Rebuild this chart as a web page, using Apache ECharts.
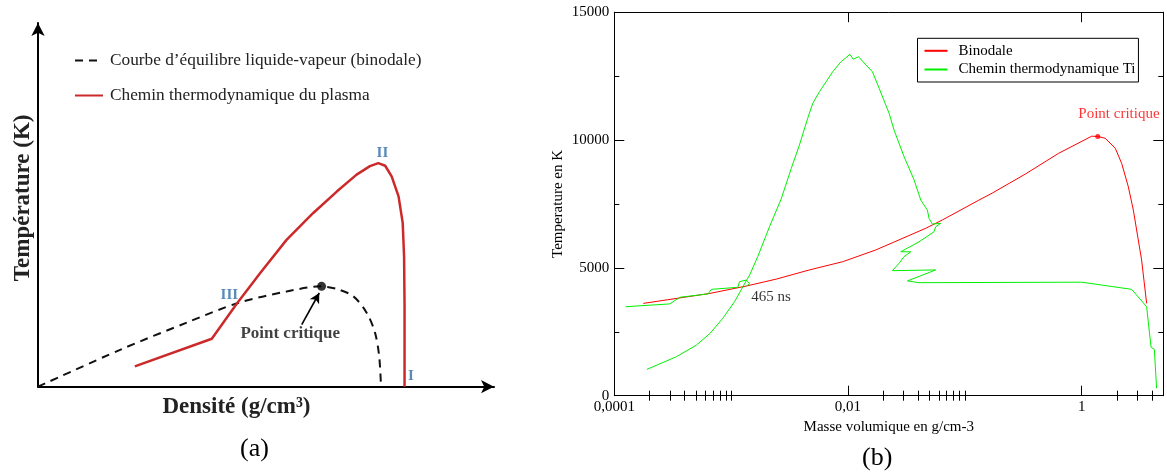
<!DOCTYPE html>
<html><head><meta charset="utf-8">
<script src="https://cdn.jsdelivr.net/npm/echarts@6/dist/echarts.min.js"></script>
<style>html,body{margin:0;padding:0;background:#fff}#c{width:1167px;height:472px}</style>
</head><body><div id="c"></div>
<script>
// ---------- Panel (a): schematic, arbitrary units ----------
const binodaleA = [[0,0],[17.8,10.0],[32.3,17.4],[43.4,22.7],[53.9,25.8],[61.2,27.2],[64.8,26.5],[68.4,24.5],[71.3,20.0],[73.1,14.6],[74.0,8.2],[74.4,0]];
const pathA = [[21.0,5.5],[37.7,13.0],[43.1,22.5],[48.2,30.8],[53.9,39.8],[59.7,47.1],[64.8,52.9],[69.1,57.5],[72.0,59.8],[73.8,60.6],[75.3,59.9],[76.7,57.0],[78.2,51.6],[79.1,44.4],[79.4,35.3],[79.5,21.8],[79.5,0]];
const criticalA = [61.5, 27.2];
const arrowA = [[57.2, 16.8], [61.0, 25.4]];
const stageLabelsA = [['I', 80.9, 3.0], ['II', 74.7, 63.3], ['III', 41.5, 24.9]];
const critLabelA = ['Point critique', 54.7, 14.5];
const legendA = ['Courbe d\u2019\u00e9quilibre liquide-vapeur (binodale)', 'Chemin thermodynamique du plasma'];

// ---------- Panel (b): density (g/cm3, log) vs temperature (K) ----------
const binodaleB = [[0.000177,3610],[0.000657,4000],[0.00135,4290],[0.00243,4560],[0.00468,4920],[0.0090,5240],[0.0173,5700],[0.0464,6550],[0.0641,6870],[0.132,7650],[0.171,7920],[0.33,8670],[0.635,9480],[1.22,10150],[1.374,10140],[1.59,10070],[1.94,9680],[2.20,9090],[2.51,8170],[2.77,7260],[3.26,5310],[3.60,3610]];
const pathB = [[4.38,290],[4.19,1815],[3.93,1890],[3.60,3480],[2.68,4160],[1.0,4440],[0.0406,4420],[0.0323,4490],[0.0564,4920],[0.0240,4890],[0.0274,5180],[0.0302,5440],[0.0345,5630],[0.0283,5630],[0.0406,6020],[0.0545,6410],[0.0564,6610],[0.0622,6740],[0.0527,6715],[0.0494,6940],[0.0478,7260],[0.042,7650],[0.0368,8440],[0.0302,9350],[0.0248,10390],[0.0225,11045],[0.0185,12020],[0.0162,12670],[0.0143,12930],[0.0123,13260],[0.0111,13160],[0.0104,13350],[0.0087,13060],[0.0074,12670],[0.0065,12280],[0.0057,11890],[0.0050,11440],[0.00452,10850],[0.00384,9800],[0.00327,8890],[0.00268,7690],[0.00213,6610],[0.00169,5440],[0.00144,4720],[0.00126,4260],[0.00107,3680],[0.00085,3030],[0.00066,2440],[0.000505,1980],[0.00034,1525],[0.00019,1030]];
const pathB2 = [[0.000125,3480],[0.000298,3590],[0.000364,3850],[0.000634,3980],[0.000678,4160],[0.00114,4240],[0.00118,4460],[0.00135,4525],[0.00144,4370],[0.00135,4290]];
const criticalB = [1.374, 10140];
const annotB = [['Point critique', 2.085, 11017, '#ff0000'], ['465 ns', 0.0022, 3872, '#000000']];
const xMajorB = [0.0001, 0.01, 1];
const xMinorB = [0.0002,0.0003,0.0004,0.0005,0.0006,0.0007,0.0008,0.0009,0.001,0.02,0.03,0.04,0.05,0.06,0.07,0.08,0.09,0.1,2,3,4];
const yMajorB = [0, 5000, 10000, 15000];
const yMinorB = [2500, 7500, 12500];
const legendB = ['Binodale', 'Chemin thermodynamique Ti'];

const SERIF = '"Liberation Serif", "DejaVu Serif", serif';
const chart = echarts.init(document.getElementById('c'), null, {renderer: 'canvas'});

const hiddenAxisParts = {axisTick:{show:false}, axisLabel:{show:false}, splitLine:{show:false}};
const tickLine = {color:'#000', width:1};
const frameLine = {show:true, onZero:false, lineStyle:{color:'#000', width:1}};
function logX(extra) {
  return Object.assign({
    type:'log', gridIndex:1, logBase:10, min:0.0001, max:5,
    splitLine:{show:false}, axisLine:{show:false}, axisLabel:{show:false}
  }, extra);
}
function linY(extra) {
  return Object.assign({
    type:'value', gridIndex:1, min:0, max:15000,
    splitLine:{show:false}, axisLine:{show:false}, axisLabel:{show:false}
  }, extra);
}

chart.setOption({
  animation:false,
  grid:[
    {left:38, top:23, width:456, height:363.7},
    {left:614.3, top:12.2, width:549, height:383.5}
  ],
  legend:[
    {data:legendA, orient:'vertical', left:74, top:52, padding:0, itemWidth:28, itemHeight:14, itemGap:18,
     selectedMode:false, itemStyle:{opacity:0, color:'transparent', borderWidth:0},
     textStyle:{fontFamily:SERIF, fontSize:17.3, color:'#222', lineHeight:14, padding:[0,0,0,2]}},
    {data:legendB, orient:'vertical', left:917.5, top:38.3, padding:[5,3,5,6], itemWidth:23, itemHeight:14, itemGap:3.7,
     borderColor:'#000', borderWidth:1, borderRadius:0, selectedMode:false,
     itemStyle:{opacity:0, color:'transparent', borderWidth:0},
     textStyle:{fontFamily:SERIF, fontSize:15, color:'#000', lineHeight:14, padding:[0,0,0,6]}}
  ],
  xAxis:[
    Object.assign({type:'value', gridIndex:0, min:0, max:98.9,
      axisLine:{show:true, symbol:['none','arrow'], symbolSize:[10,13], lineStyle:{color:'#000', width:2}},
      name:'Densit\u00e9 (g/cm\u00b3)', nameLocation:'middle', nameGap:9,
      nameTextStyle:{fontFamily:SERIF, fontWeight:'bold', fontSize:23, color:'#222', padding:[0,59,0,0]}
    }, hiddenAxisParts),
    logX({position:'bottom', axisLine:frameLine,
      axisTick:{show:true, inside:true, length:10, customValues:xMajorB, lineStyle:tickLine},
      axisLabel:{show:true, customValues:xMajorB, margin:4, fontFamily:SERIF, fontSize:15, color:'#000',
        formatter:v => String(v).replace('.', ',')},
      name:'Masse volumique en g/cm-3', nameLocation:'middle', nameGap:23,
      nameTextStyle:{fontFamily:SERIF, fontSize:15, color:'#000'}
    }),
    logX({position:'bottom', axisTick:{show:true, inside:true, length:5, customValues:xMinorB, lineStyle:tickLine}}),
    logX({position:'top', axisLine:frameLine,
      axisTick:{show:true, inside:true, length:10, customValues:xMajorB, lineStyle:tickLine}}),
    logX({position:'top', axisTick:{show:true, inside:true, length:5, customValues:xMinorB, lineStyle:tickLine}})
  ],
  yAxis:[
    Object.assign({type:'value', gridIndex:0, min:0, max:98.6,
      axisLine:{show:true, symbol:['none','arrow'], symbolSize:[10,13], lineStyle:{color:'#000', width:2}},
      name:'Temp\u00e9rature (K)', nameLocation:'middle', nameGap:3,
      nameTextStyle:{fontFamily:SERIF, fontWeight:'bold', fontSize:23, color:'#222', padding:[0,0,0,14]}
    }, hiddenAxisParts),
    linY({position:'left', axisLine:frameLine,
      axisTick:{show:true, inside:true, length:10, customValues:yMajorB, lineStyle:tickLine},
      axisLabel:{show:true, customValues:yMajorB, margin:5, fontFamily:SERIF, fontSize:15, color:'#000',
        formatter:v => String(v)},
      name:'Temperature en K', nameLocation:'middle', nameGap:49,
      nameTextStyle:{fontFamily:SERIF, fontSize:15, color:'#000'}}),
    linY({position:'left', axisTick:{show:true, inside:true, length:5, customValues:yMinorB, lineStyle:tickLine}}),
    linY({position:'right', axisLine:frameLine,
      axisTick:{show:true, inside:true, length:10, customValues:yMajorB, lineStyle:tickLine}}),
    linY({position:'right', axisTick:{show:true, inside:true, length:5, customValues:yMinorB, lineStyle:tickLine}})
  ],
  series:[
    {name:legendA[0], type:'line', xAxisIndex:0, yAxisIndex:0, data:binodaleA, symbol:'none', smooth:0.3,
      lineStyle:{color:'#111', width:2, type:[8,6]}, itemStyle:{color:'#111'}},
    {name:legendA[1], type:'line', xAxisIndex:0, yAxisIndex:0, data:pathA, symbol:'none',
      lineStyle:{color:'#cc2a2a', width:2.5}, itemStyle:{color:'#cc2a2a'}},
    {type:'scatter', xAxisIndex:0, yAxisIndex:0, data:[criticalA], symbolSize:9, itemStyle:{color:'#000'}, z:5,
      markLine:{silent:true, symbol:['none','arrow'], symbolSize:[8,10], label:{show:false},
        lineStyle:{color:'#000', width:1.6, type:'solid'},
        data:[[{coord:arrowA[0]}, {coord:arrowA[1]}]]}},
    {type:'scatter', xAxisIndex:0, yAxisIndex:0, symbolSize:0, silent:true,
      data:stageLabelsA.map(d => ({value:[d[1], d[2]], label:{formatter:d[0]}})),
      label:{show:true, position:'inside', color:'#2e6ea6', fontFamily:SERIF, fontWeight:'bold', fontSize:15}},
    {type:'scatter', xAxisIndex:0, yAxisIndex:0, symbolSize:0, silent:true,
      data:[{value:[critLabelA[1], critLabelA[2]], label:{formatter:critLabelA[0]}}],
      label:{show:true, position:'inside', color:'#111', fontFamily:SERIF, fontWeight:'bold', fontSize:17}},

    {name:legendB[0], type:'line', xAxisIndex:1, yAxisIndex:1, data:binodaleB, symbol:'none',
      lineStyle:{color:'#ff0000', width:1}, itemStyle:{color:'#ff0000'}},
    {name:legendB[1], type:'line', xAxisIndex:1, yAxisIndex:1, data:pathB, symbol:'none',
      lineStyle:{color:'#00f000', width:1}, itemStyle:{color:'#00f000'}},
    {name:legendB[1], type:'line', xAxisIndex:1, yAxisIndex:1, data:pathB2, symbol:'none',
      lineStyle:{color:'#00f000', width:1}, itemStyle:{color:'#00f000'}},
    {type:'scatter', xAxisIndex:1, yAxisIndex:1, data:[criticalB], symbolSize:5, itemStyle:{color:'#ff0000'}, z:5},
    {type:'scatter', xAxisIndex:1, yAxisIndex:1, symbolSize:0, silent:true,
      data:annotB.map(d => ({value:[d[1], d[2]], label:{formatter:d[0], color:d[3]}})),
      label:{show:true, position:'inside', fontFamily:SERIF, fontSize:15}}
  ],
  graphic:[
    {type:'text', left:240, top:436, style:{text:'(a)', font:'26px "Liberation Serif"', fill:'#000'}},
    {type:'text', left:862, top:445, style:{text:'(b)', font:'26px "Liberation Serif"', fill:'#000'}}
  ]
});
</script>
</body></html>
